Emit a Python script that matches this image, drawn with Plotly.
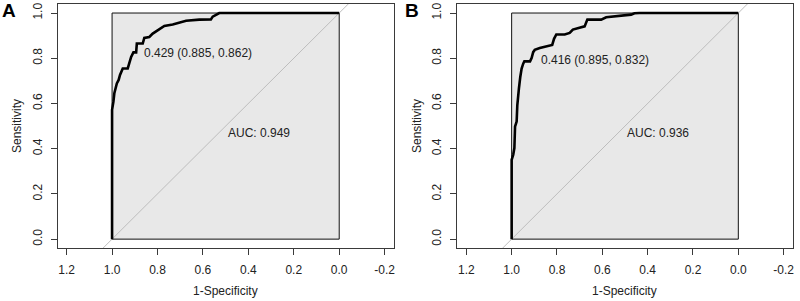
import plotly.graph_objects as go

# ---- data ----
spec_a = [1.0, 1.0, 0.994, 0.990, 0.979, 0.971, 0.965, 0.953, 0.931, 0.924, 0.916, 0.906, 0.894,
          0.891, 0.865, 0.858, 0.836, 0.821, 0.806, 0.792, 0.770, 0.733, 0.704, 0.674, 0.616,
          0.565, 0.557, 0.535, 0.528, 0.0]
sens_a = [0.0, 0.572, 0.608, 0.645, 0.689, 0.704, 0.726, 0.755, 0.755, 0.777, 0.806, 0.826, 0.826,
          0.865, 0.865, 0.890, 0.894, 0.909, 0.919, 0.931, 0.943, 0.949, 0.957, 0.966, 0.971,
          0.972, 0.984, 0.996, 1.0, 1.0]

spec_b = [1.0, 1.0, 0.993, 0.988, 0.985, 0.978, 0.975, 0.971, 0.968, 0.962, 0.956, 0.949, 0.944,
          0.919, 0.912, 0.905, 0.898, 0.876, 0.846, 0.821, 0.813, 0.803, 0.766, 0.744, 0.730,
          0.700, 0.678, 0.666, 0.605, 0.583, 0.531, 0.473, 0.458, 0.436, 0.0]
sens_b = [0.0, 0.351, 0.373, 0.403, 0.498, 0.520, 0.593, 0.622, 0.666, 0.717, 0.754, 0.776, 0.786,
          0.786, 0.801, 0.827, 0.837, 0.845, 0.852, 0.859, 0.886, 0.905, 0.905, 0.912, 0.927,
          0.937, 0.941, 0.971, 0.971, 0.981, 0.988, 0.993, 0.999, 1.0, 1.0]

thr_a = {"t": 0.429, "spec": 0.885, "sens": 0.862}
thr_b = {"t": 0.416, "spec": 0.895, "sens": 0.832}
auc_a = 0.949
auc_b = 0.936

panel_labels = ["A", "B"]
box_x = [1, 0, 0, 1, 1]
box_y = [0, 0, 1, 1, 0]
diag_x = [1.2, -0.2]
diag_y = [-0.2, 1.2]

x_tickvals = [1.2, 1.0, 0.8, 0.6, 0.4, 0.2, 0.0, -0.2]
x_ticktext = ["1.2", "1.0", "0.8", "0.6", "0.4", "0.2", "0.0", "-0.2"]
y_tickvals = [0.0, 0.2, 0.4, 0.6, 0.8, 1.0]
y_ticktext = ["0.0", "0.2", "0.4", "0.6", "0.8", "1.0"]

FONT = "Liberation Sans, Arial, sans-serif"
TXT = "#222222"
FRAME = "#3a3a3a"

fig = go.Figure()

panels = [(spec_a, sens_a, thr_a, auc_a, "x", "y"), (spec_b, sens_b, thr_b, auc_b, "x2", "y2")]
for spec, sens, thr, auc, xa, ya in panels:
    fig.add_trace(go.Scatter(x=box_x, y=box_y, mode="lines", fill="toself",
                             fillcolor="#e8e8e8", line=dict(color="#111111", width=1),
                             xaxis=xa, yaxis=ya, hoverinfo="skip", showlegend=False))
    fig.add_trace(go.Scatter(x=diag_x, y=diag_y, mode="lines",
                             line=dict(color="#bdbdbd", width=1),
                             xaxis=xa, yaxis=ya, hoverinfo="skip", showlegend=False))
    fig.add_trace(go.Scatter(x=spec, y=sens, mode="lines",
                             line=dict(color="#000000", width=2.6),
                             xaxis=xa, yaxis=ya, showlegend=False))
    fig.add_annotation(x=thr["spec"], y=thr["sens"], xref=xa, yref=ya,
                       text=f'{thr["t"]:.3f} ({thr["spec"]:.3f}, {thr["sens"]:.3f})',
                       showarrow=False, xanchor="left", yanchor="middle", xshift=4, yshift=-9,
                       font=dict(family=FONT, size=12, color=TXT))
    fig.add_annotation(x=0.5, y=0.47, xref=xa, yref=ya,
                       text=f"AUC: {auc:.3f}", showarrow=False,
                       xanchor="left", yanchor="middle",
                       font=dict(family=FONT, size=12, color=TXT))
    fig.add_annotation(x=0.5, y=1 - 290.5 / 301, xref=xa, yref="paper", text="1-Specificity",
                       showarrow=False, xanchor="center", yanchor="middle",
                       font=dict(family=FONT, size=12, color=TXT))

fig.add_annotation(x=17 / 800, y=0.5, xref="paper", yref="y", text="Sensitivity", textangle=-90,
                   showarrow=False, xanchor="center", yanchor="middle",
                   font=dict(family=FONT, size=12, color=TXT))
fig.add_annotation(x=418 / 800, y=0.5, xref="paper", yref="y2", text="Sensitivity", textangle=-90,
                   showarrow=False, xanchor="center", yanchor="middle",
                   font=dict(family=FONT, size=12, color=TXT))

for lab, px in zip(panel_labels, [0.0, 404 / 800]):
    fig.add_annotation(x=px, y=1.0, xref="paper", yref="paper", text=f"<b>{lab}</b>",
                       showarrow=False, xanchor="left", yanchor="top", yshift=3,
                       font=dict(family=FONT, size=19, color="#000000"))

xcommon = dict(range=[1.24, -0.24], tickvals=x_tickvals, ticktext=x_ticktext,
               showgrid=False, zeroline=False, showline=True, mirror=True,
               linecolor=FRAME, linewidth=1, ticks="outside", ticklen=6, tickcolor=FRAME,
               tickfont=dict(family=FONT, size=12, color=TXT), ticklabelstandoff=4)
ycommon = dict(range=[-0.04, 1.04], tickvals=y_tickvals, ticktext=y_ticktext,
               showgrid=False, zeroline=False, showline=True, mirror=True,
               linecolor=FRAME, linewidth=1, ticks="outside", ticklen=6, tickcolor=FRAME,
               tickangle=-90, tickfont=dict(family=FONT, size=12, color=TXT), ticklabelstandoff=4)

ytop = 1 - 3 / 301
ybot = 1 - 248 / 301
fig.update_layout(
    width=800, height=301,
    margin=dict(l=0, r=0, t=0, b=0),
    paper_bgcolor="white", plot_bgcolor="white",
    hovermode=False,
    xaxis=dict(domain=[57.7 / 800, 394.7 / 800], anchor="y", **xcommon),
    yaxis=dict(domain=[ybot, ytop], anchor="x", **ycommon),
    xaxis2=dict(domain=[458.4 / 800, 794.7 / 800], anchor="y2", **xcommon),
    yaxis2=dict(domain=[ybot, ytop], anchor="x2", **ycommon),
)

fig.write_html("out.html", config={"displayModeBar": False},
               post_script="document.body.style.margin='0';document.body.style.overflow='hidden';")
